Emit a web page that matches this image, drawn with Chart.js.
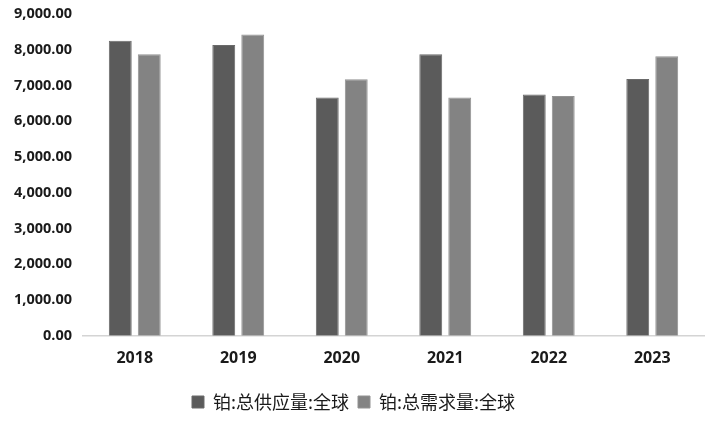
<!DOCTYPE html>
<html>
<head>
<meta charset="utf-8">
<script src="https://cdn.jsdelivr.net/npm/chart.js@4/dist/chart.umd.min.js"></script>
<style>
 html,body{margin:0;padding:0;background:#fff;}
 #wrap{width:710px;height:422px;position:relative;}
</style>
</head>
<body>
<div id="wrap"><canvas id="grafico"></canvas></div>
<script>
const anios=['2018','2019','2020','2021','2022','2023'];
const oferta=[8250,8130,6665,7875,6750,7180];
const demanda=[7875,8430,7175,6665,6705,7820];
const nombreOferta='铂:总供应量:全球';
const nombreDemanda='铂:总需求量:全球';

const fmt=v=>Number(v).toLocaleString('en-US',{minimumFractionDigits:2,maximumFractionDigits:2});

new Chart(document.getElementById('grafico').getContext('2d'),{
 type:'bar',
 data:{
  labels:anios,
  datasets:[
   {label:nombreOferta,data:oferta,backgroundColor:'#5b5b5b',borderColor:'#6a6a6a',borderWidth:1,categoryPercentage:0.56,barPercentage:0.79},
   {label:nombreDemanda,data:demanda,backgroundColor:'#838383',borderColor:'#929292',borderWidth:1,categoryPercentage:0.56,barPercentage:0.79}
  ]
 },
 options:{
  responsive:true,
  maintainAspectRatio:false,
  animation:false,
  layout:{padding:{top:0,right:6,left:3,bottom:1}},
  plugins:{
   legend:{
    position:'bottom',
    labels:{
     boxWidth:12,boxHeight:12,padding:9,color:'#1a1a1a',
     font:{family:'"Noto Sans CJK SC"',size:18}
    }
   },
   tooltip:{enabled:false}
  },
  scales:{
   x:{
    grid:{display:false,drawTicks:false},
    border:{display:true,color:'#d4d4d4',width:1.5},
    ticks:{color:'#1a1a1a',padding:13,font:{family:'"Open Sans"',size:16,weight:'bold'}},
    afterFit:s=>{s.height+=3;}
   },
   y:{
    min:0,max:9000,
    grid:{display:false,drawTicks:false},
    border:{display:false},
    ticks:{stepSize:1000,color:'#1a1a1a',padding:11,callback:v=>fmt(v),font:{family:'"Open Sans"',size:14.5,weight:'bold'}},
    afterFit:s=>{s.paddingTop=14;s.paddingBottom=8;}
   }
  }
 }
});
</script>
</body>
</html>
